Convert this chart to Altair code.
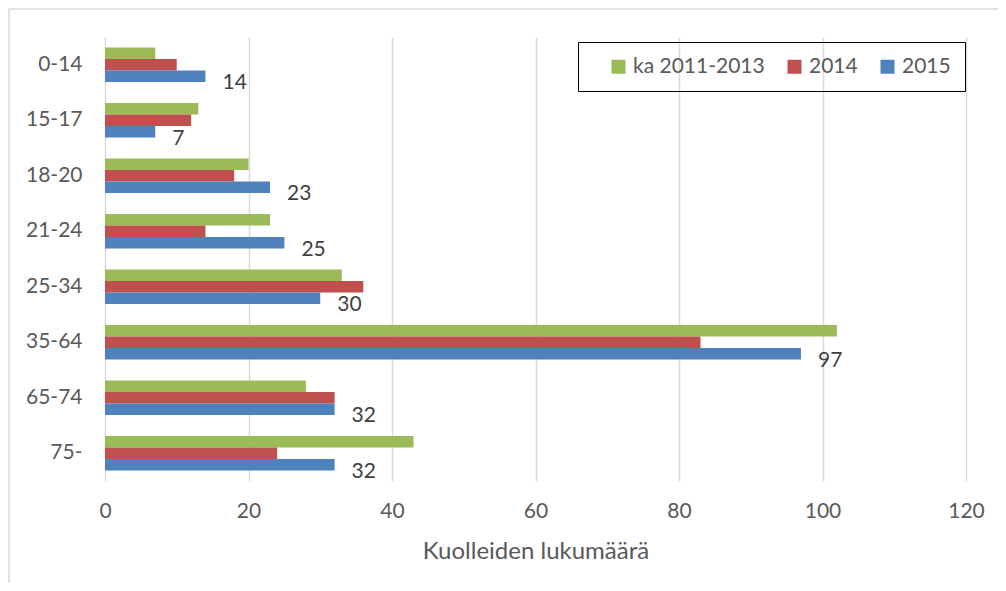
import altair as alt
import pandas as pd

categories = ["0-14", "15-17", "18-20", "21-24", "25-34", "35-64", "65-74", "75-"]
series = ["ka 2011-2013", "2014", "2015"]
ka_2011_2013 = [7, 13, 20, 23, 33, 102, 28, 43]
y2014 = [10, 12, 18, 14, 36, 83, 32, 24]
y2015 = [14, 7, 23, 25, 30, 97, 32, 32]
colors = ["#9BBB59", "#C0504D", "#4F81BD"]
x_ticks = [0, 20, 40, 60, 80, 100, 120]

rows = []
for vals, s in zip([ka_2011_2013, y2014, y2015], series):
    for c, v in zip(categories, vals):
        rows.append({"cat": c, "series": s, "value": v})
df = pd.DataFrame(rows)

FONT = "Lato"
TXT = "#595959"

y_enc = alt.Y("cat:N", sort=categories, title=None,
              scale=alt.Scale(paddingInner=0.38, paddingOuter=0.19),
              axis=alt.Axis(labelFontSize=21, labelColor=TXT, labelFont=FONT,
                            ticks=False, domain=False, labelPadding=23))
yoff_enc = alt.YOffset("series:N", sort=series,
                       scale=alt.Scale(domain=series, paddingInner=0, paddingOuter=0))
x_enc = alt.X("value:Q", title="Kuolleiden lukumäärä",
              scale=alt.Scale(domain=[0, 120], nice=False),
              axis=alt.Axis(values=x_ticks, labelFontSize=21, labelColor=TXT, labelFont=FONT,
                            labelFlush=False,
                            titleFontSize=24, titleColor=TXT, titleFont=FONT,
                            titleFontWeight="normal", titlePadding=18,
                            ticks=False, domain=False, grid=True, gridColor="#d9d9d9",
                            gridWidth=1.5, labelPadding=19))

bars = alt.Chart(df).mark_bar().encode(
    x=x_enc,
    y=y_enc,
    yOffset=yoff_enc,
    color=alt.Color("series:N", sort=series,
                    scale=alt.Scale(domain=series, range=colors),
                    legend=alt.Legend(title=None, orient="none", legendX=473, legendY=5,
                                      direction="horizontal", strokeColor="black",
                                      padding=14, symbolOffset=16,
                                      symbolType="square", symbolSize=196,
                                      symbolStrokeWidth=0, labelOffset=4,
                                      columnPadding=3, labelFontSize=21,
                                      labelFont=FONT, labelColor=TXT)),
)

labels = alt.Chart(df).transform_filter(alt.datum.series == "2015").mark_text(
    align="left", baseline="middle", dx=17, dy=7, fontSize=21, font=FONT, color="#404040"
).encode(
    x=alt.X("value:Q"),
    y=alt.Y("cat:N", sort=categories),
    yOffset=alt.YOffset("series:N", sort=series, scale=alt.Scale(domain=series)),
    text=alt.Text("value:Q"),
)

frame = alt.Chart(pd.DataFrame({"a": [0]})).mark_rect(
    fill=None, stroke="#d9d9d9", strokeWidth=1.5
).encode(x=alt.value(-96), x2=alt.value(2000), y=alt.value(-28), y2=alt.value(2000))

chart = alt.layer(frame, bars, labels).properties(
    width=861, height=444,
    autosize=alt.AutoSizeParams(type="none"),
    padding={"left": 97, "top": 29, "right": 32, "bottom": 102},
).configure_view(stroke=None)

chart.save("out.html", embed_options={"renderer": "svg", "actions": False})
